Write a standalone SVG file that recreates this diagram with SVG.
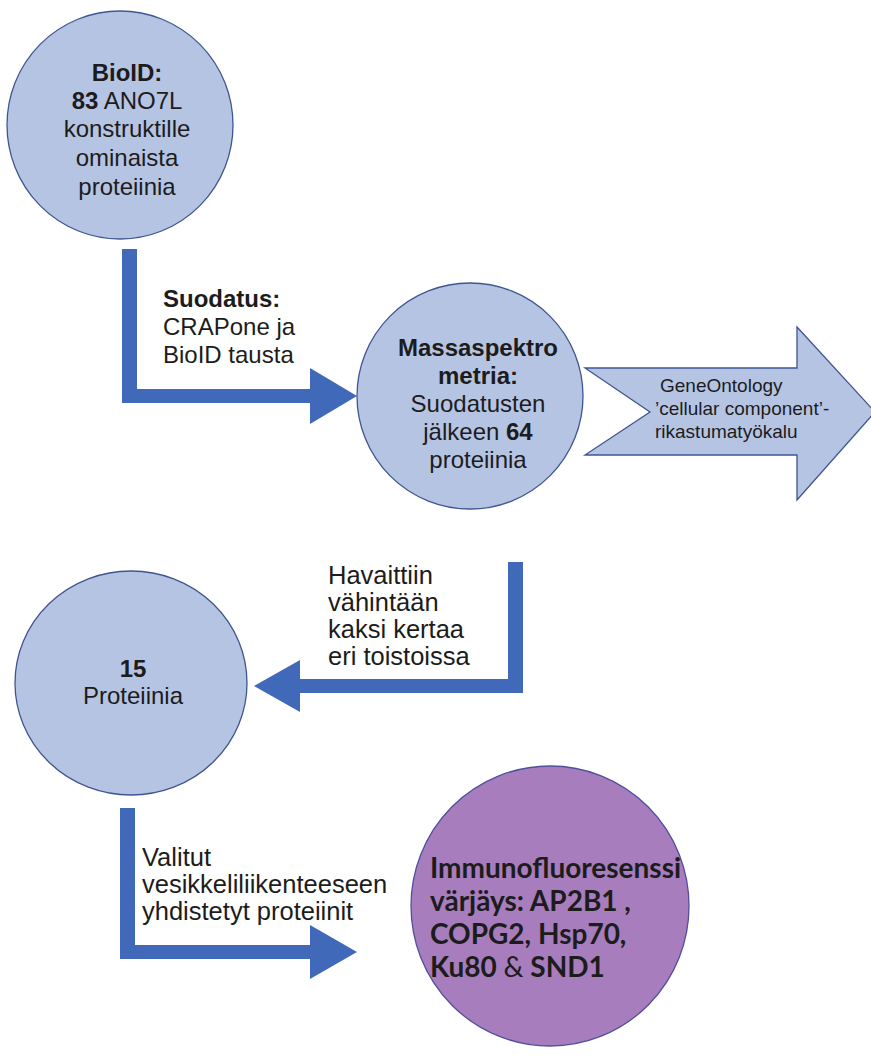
<svg xmlns="http://www.w3.org/2000/svg" width="871" height="1056" viewBox="0 0 871 1056">
<style>
.node{fill:#b6c4e4;stroke:#3f5591;stroke-width:1.3}
.purple{fill:#a77dbd;stroke:#4f4f9e;stroke-width:1.3}
.conn{fill:#4169b9;stroke:none}
text{font-family:"Liberation Sans",Arial,sans-serif;fill:#1c1c1c}
.t24{font-size:24px}
.t25{font-size:25.5px}
.t19{font-size:19px}
.b{font-weight:bold}
.cal{font-family:Lato,"Open Sans",sans-serif;font-size:28px;font-weight:bold}
</style>
<rect width="871" height="1056" fill="#ffffff"/>
<g id="connectors">
<path class="conn" d="M122,249 H137 V389 H310 V368 L357,396 L310,424 V403 H122 Z"/>
<path class="conn" d="M523,562 H508 V679 H300 V660 L254,686 L300,712 V693 H523 Z"/>
<path class="conn" d="M120,808 H135 V945 H310 V925 L357,952 L310,979 V959 H120 Z"/>
</g>
<g id="label-suodatus">
<text class="t24" x="163" y="307"><tspan class="b">Suodatus:</tspan></text>
<text class="t24" x="163" y="335">CRAPone ja</text>
<text class="t24" x="163" y="363">BioID tausta</text>
</g>
<g id="label-havaittiin">
<text class="t25" x="328" y="584">Havaittiin</text>
<text class="t25" x="328" y="611">vähintään</text>
<text class="t25" x="328" y="638">kaksi kertaa</text>
<text class="t25" x="328" y="665">eri toistoissa</text>
</g>
<g id="label-valitut">
<text class="t25" x="142" y="866">Valitut</text>
<text class="t25" x="142" y="893">vesikkeliliikenteeseen</text>
<text class="t25" x="142" y="920">yhdistetyt proteiinit</text>
</g>
<g id="node-bioid">
<ellipse class="node" cx="120" cy="125" rx="113" ry="114"/>
<text class="t24" text-anchor="middle" x="127" y="81"><tspan class="b">BioID:</tspan></text>
<text class="t24" text-anchor="middle" x="127" y="109"><tspan class="b">83</tspan> ANO7L</text>
<text class="t24" text-anchor="middle" x="127" y="137">konstruktille</text>
<text class="t24" text-anchor="middle" x="127" y="166">ominaista</text>
<text class="t24" text-anchor="middle" x="127" y="195">proteiinia</text>
</g>
<g id="node-massa">
<ellipse class="node" cx="470" cy="396" rx="113" ry="113"/>
<text class="t24 b" text-anchor="middle" x="478" y="356">Massaspektro</text>
<text class="t24 b" text-anchor="middle" x="478" y="384">metria:</text>
<text class="t24" text-anchor="middle" x="478" y="412">Suodatusten</text>
<text class="t24" text-anchor="middle" x="478" y="440">jälkeen <tspan class="b">64</tspan></text>
<text class="t24" text-anchor="middle" x="478" y="468">proteiinia</text>
</g>
<g id="node-geneontology">
<path class="node" d="M585,368 H797 V327 L875,412 L797,500 V455 H585 L650,412 Z"/>
<text class="t19" x="660" y="392">GeneOntology</text>
<text class="t19" x="655" y="415">’cellular component’-</text>
<text class="t19" x="655" y="438">rikastumatyökalu</text>
</g>
<g id="node-15">
<ellipse class="node" cx="131" cy="683" rx="116" ry="112"/>
<text class="t24 b" text-anchor="middle" x="133" y="677">15</text>
<text class="t24" text-anchor="middle" x="133" y="704">Proteiinia</text>
</g>
<g id="node-immuno">
<ellipse class="purple" cx="550" cy="906" rx="139" ry="140"/>
<text class="cal" x="430" y="878">Immunofluoresenssi</text>
<text class="cal" x="430" y="911">värjäys: AP2B1 ,</text>
<text class="cal" x="430" y="944">COPG2, Hsp70,</text>
<text class="cal" x="430" y="977">Ku80 <tspan font-weight="normal">&amp;</tspan> SND1</text>
</g>
</svg>
